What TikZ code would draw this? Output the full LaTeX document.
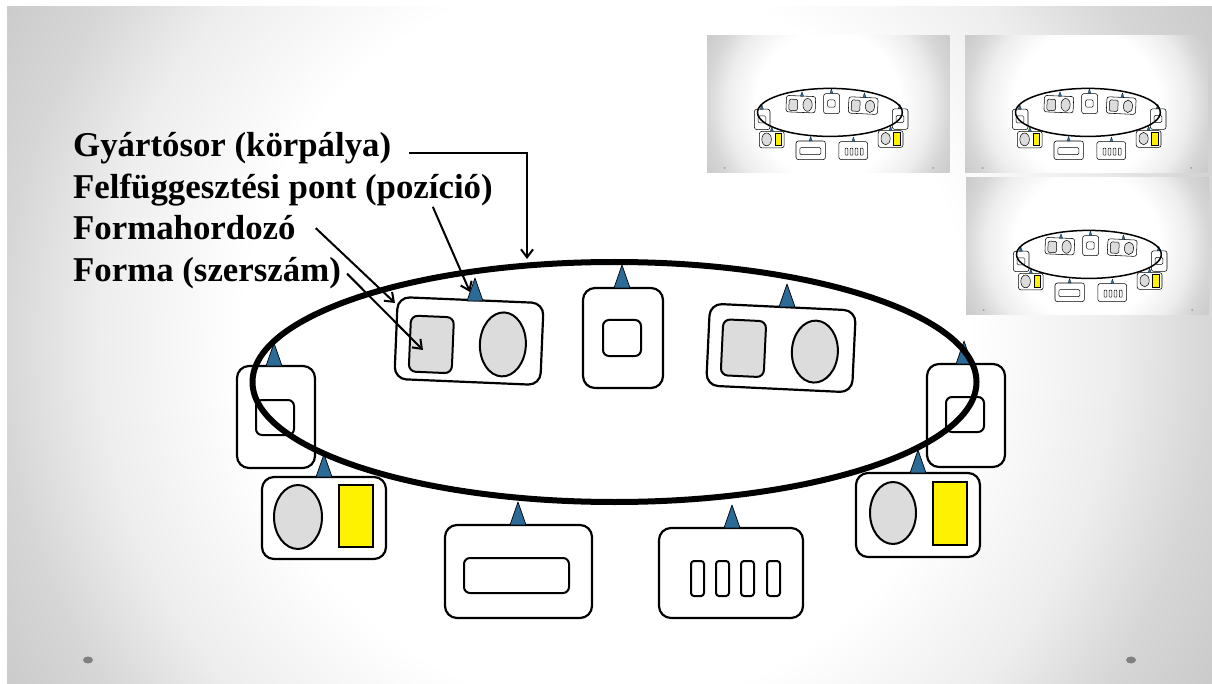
\documentclass[tikz,border=0pt]{standalone}
\usepackage{fontspec}
\setmainfont{Liberation Serif}
\usetikzlibrary{arrows.meta}
\usetikzlibrary{positioning}

\definecolor{hookblue}{RGB}{44,106,151}
\definecolor{formgray}{RGB}{220,220,220}
\definecolor{dotgray}{RGB}{128,128,128}
\pgfdeclareradialshading{slidebg}{\pgfpoint{0bp}{0bp}}{color(0bp)=(white); color(15bp)=(white); color(21bp)=(black!7); color(25bp)=(black!16); color(29bp)=(black!21); color(50bp)=(black!21)}

\newcommand{\lwf}{1}
\newcommand{\dsc}{1}

\tikzset{
  carrier/.style={draw=black, fill=white, line width={2.2pt*\lwf}, rounded corners={12pt*\dsc}},
  form/.style={draw=black, fill=formgray, line width={2pt*\lwf}, rounded corners={7pt*\dsc}},
  core/.style={draw=black, fill=white, line width={2pt*\lwf}, rounded corners={6pt*\dsc}},
  mould/.style={draw=black, fill=formgray, line width={2pt*\lwf}},
  insert/.style={draw=black, fill=yellow, line width={2pt*\lwf}},
  hook/.style={draw=black, fill=hookblue, line width={0.7pt*\lwf}, line join=round},
  track/.style={draw=black, line width={6pt*\lwf}},
  lbl/.style={font=\bfseries\fontsize{34.8}{41.7}\selectfont, anchor=base west, inner sep=0pt},
  pointer/.style={line width=2pt, -{Straight Barb[length=8pt,width=12pt]}},
  pagedot/.style={fill=dotgray}
}

% suspension point: x, base y
\newcommand{\hook}[2]{\draw[hook] (#1-8,#2) -- (#1,#2-23) -- (#1+8,#2) -- cycle;}

% slide background, from its top left corner
\newcommand{\slide}[1]{%
  \begin{scope}
    \clip (#1) rectangle (1212,684);
    \shade[shading=slidebg] (0,-264) rectangle (1212,948);
  \end{scope}
  \fill[pagedot] (88,660) ellipse [x radius=5, y radius=3.5];
  \fill[pagedot] (1131,660) ellipse [x radius=5, y radius=3.5];
}

\newcommand{\carousel}{%
  % left
  \draw[carrier] (237,366) rectangle (315,468);
  \draw[core] (256,400) rectangle (294,435);
  \hook{274}{366}
  % top left
  \begin{scope}[rotate around={-2.4:(469,341)}]
    \draw[carrier] (396,300) rectangle (542,382);
    \draw[form] (410,318) rectangle (453,374);
    \draw[mould] (503,343) ellipse [x radius=23, y radius=32];
  \end{scope}
  \hook{475}{301}
  % top middle
  \draw[carrier] (583,288) rectangle (663,388);
  \draw[core] (603,320) rectangle (641,356);
  \hook{622}{288}
  % top right
  \begin{scope}[rotate around={-2.7:(781,348)}]
    \draw[carrier] (708,307) rectangle (854,389);
    \draw[form] (722,322) rectangle (765,378);
    \draw[mould] (815,350) ellipse [x radius=23, y radius=31];
  \end{scope}
  \hook{787}{307}
  % right
  \draw[carrier] (927,364) rectangle (1005,467);
  \draw[core] (946,397) rectangle (984,432);
  \hook{964}{364}
  % bottom left
  \draw[carrier] (262,477) rectangle (386,559);
  \draw[mould] (298,517) ellipse [x radius=24, y radius=32];
  \draw[insert] (339,485) rectangle (373,547);
  \hook{324}{477}
  % bottom
  \draw[carrier] (445,525) rectangle (592,618);
  \draw[core] (464,558) rectangle (569,593);
  \hook{518}{525}
  \draw[carrier] (659,528) rectangle (803,618);
  \foreach \bx in {691,716,741,767}
    \draw[core, rounded corners={3pt*\dsc}] (\bx,561) rectangle (\bx+13,596);
  \hook{732}{528}
  % bottom right
  \draw[carrier] (856,473) rectangle (980,557);
  \draw[mould] (893,513) ellipse [x radius=23, y radius=31];
  \draw[insert] (933,482) rectangle (967,545);
  \hook{918}{473}
  % production line
  \draw[track] (614.5,382) ellipse [x radius=362, y radius=120];
}

\begin{document}
\begin{tikzpicture}[x=1pt,y=-1pt]
  \useasboundingbox (0,0) rectangle (1212,684);
  \fill[white] (0,0) rectangle (1212,684);
  \slide{7,7}

  % small copies
  \foreach \tx/\ty in {707/36, 965/36, 966/178}{
    \begin{scope}[shift={(\tx,\ty)}, scale=0.2]
      \renewcommand{\lwf}{0.25}\renewcommand{\dsc}{0.2}
      \slide{0,0}
      \carousel
    \end{scope}
  }

  \carousel

  \coordinate (trackpt) at (527,259);
  \coordinate (hookpt) at (470,292);
  \coordinate (holderpt) at (395,303);
  \coordinate (formpt) at (423,350);

  \node[lbl] (line) at (73,157) {Gyártósor (körpálya)};
  \node[lbl] (point) at (73,199) {Felfüggesztési pont (pozíció)};
  \node[lbl] (holder) at (73,240) {Formahordozó};
  \node[lbl] (tool) at (73,282) {Forma (szerszám)};

  \draw[pointer] ([xshift=18pt,yshift=-4pt]line.east) -| (trackpt);
  \draw[pointer] ([xshift=-60pt]point.south east) -- (hookpt);
  \draw[pointer] ([xshift=20pt]holder.east) -- (holderpt);
  \draw[pointer] ([xshift=6pt]tool.east) -- (formpt);
\end{tikzpicture}
\end{document}
